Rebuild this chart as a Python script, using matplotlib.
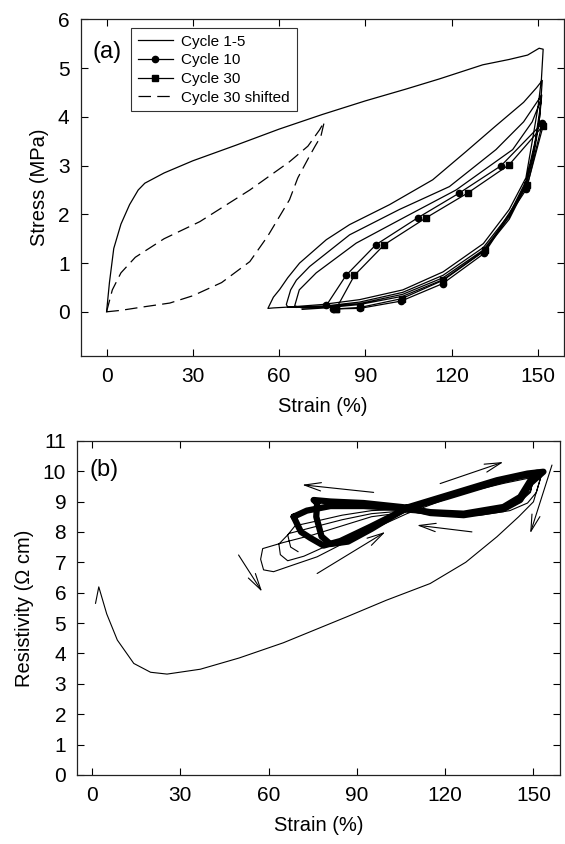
import matplotlib
matplotlib.use("Agg")
import matplotlib.pyplot as plt

plt.rcParams['font.family'] = ['Liberation Sans', 'DejaVu Sans']

# ---------------- Panel (a) data : stress-strain ----------------
# cycles 1-5 (continuous record)
c15_strain = [0, 1, 2.5, 5, 8, 11, 13.3, 20, 30, 45, 60, 75, 90, 104, 115.7, 130.8, 140, 146.4, 150.4, 151.8,
              151.2, 150.0, 148.0, 145.8, 140, 131, 117, 103, 88, 75, 64, 58, 56.1,
              58, 60.2, 63, 67.1, 76.4, 84.5, 98.4, 113.4, 125, 135, 145, 149.5, 151.5,
              150.8, 149.0, 145.8, 140, 131, 117, 103, 88, 76, 66, 63, 62.5,
              64, 66, 70.6, 84.5, 101.8, 119.2, 135.4, 145, 151.3,
              150.6, 148.5, 145.8, 140, 131, 117, 103, 88, 76, 68, 65.4,
              67, 72.9, 86.8, 104.2, 121.5, 141.2, 148, 151.0,
              150.4, 148.5, 145.8, 140, 131, 117, 103, 88, 76, 68]
c15_stress = [0, 0.6, 1.3, 1.8, 2.2, 2.5, 2.64, 2.85, 3.1, 3.42, 3.75, 4.05, 4.33, 4.57, 4.78, 5.07, 5.18, 5.27, 5.41, 5.39,
              4.78, 4.2, 3.5, 2.75, 2.1, 1.4, 0.82, 0.45, 0.25, 0.15, 0.1, 0.08, 0.07,
              0.3, 0.46, 0.7, 1.0, 1.48, 1.79, 2.2, 2.71, 3.29, 3.8, 4.3, 4.6, 4.75,
              4.2, 3.5, 2.68, 2.0, 1.32, 0.75, 0.4, 0.2, 0.12, 0.09, 0.1, 0.15,
              0.45, 0.65, 0.93, 1.58, 2.1, 2.57, 3.33, 3.9, 4.45,
              4.0, 3.3, 2.62, 1.95, 1.27, 0.7, 0.36, 0.17, 0.1, 0.08, 0.12,
              0.45, 0.8, 1.41, 1.96, 2.5, 3.33, 3.9, 4.35,
              3.9, 3.2, 2.58, 1.9, 1.24, 0.66, 0.32, 0.15, 0.08, 0.05]

# cycle 10 (circles) and cycle 30 (squares)
c10_strain = [76.4, 83.3, 93.7, 108.2, 122.7, 137.2, 151.5, 146.0, 131.3, 116.9, 102.4, 88.0, 78.7]
c10_stress = [0.13, 0.75, 1.38, 1.93, 2.44, 3.00, 3.87, 2.52, 1.20, 0.58, 0.22, 0.07, 0.06]
c30_strain = [79.8, 86.2, 96.6, 111.1, 125.6, 140.0, 151.8, 146.3, 131.6, 117.1, 102.6, 88.2, 79.8]
c30_stress = [0.06, 0.75, 1.38, 1.93, 2.44, 3.02, 3.82, 2.60, 1.26, 0.65, 0.27, 0.09, 0.06]

# cycle 30 shifted to the origin (dashed)
c30s_strain = [0, 2, 5, 10, 20, 32.4, 49.8, 63.6, 70, 74, 75.7,
               74.5, 72.5, 70.6, 66.5, 63.6, 56, 49.8, 40, 30, 22, 12.7, 5, 0]
c30s_stress = [0, 0.45, 0.8, 1.12, 1.5, 1.85, 2.5, 3.08, 3.4, 3.73, 3.9,
               3.6, 3.4, 3.2, 2.75, 2.3, 1.55, 1.03, 0.6, 0.33, 0.18, 0.1, 0.03, 0]

# ---------------- Panel (b) data : resistivity-strain ----------------
r15_strain = [1.2, 2.3, 5, 8.6, 14.2, 19.9, 25.5, 36.8, 50, 65, 86.7, 100, 114.9, 127, 137.6, 145, 150, 152.5,
              151, 148, 142, 132, 120, 107, 95, 85, 75, 65, 58, 57.3, 58.3,
              61.7, 68, 76.5, 90, 107, 125, 140, 150,
              149, 145, 135, 120, 107, 95, 85, 75, 67, 63.5, 64, 66.5,
              72, 80, 92, 107, 125, 140, 150.5,
              149, 145, 135, 120, 107, 95, 85, 76, 69, 66.5, 67.5, 70]
r15_res = [5.65, 6.19, 5.3, 4.44, 3.67, 3.38, 3.32, 3.48, 3.85, 4.35, 5.21, 5.75, 6.3, 7.0, 7.84, 8.5, 8.99, 9.8,
           9.3, 8.95, 8.7, 8.55, 8.55, 8.65, 8.5, 8.2, 7.9, 7.65, 7.45, 7.1, 6.75,
           6.69, 6.9, 7.18, 7.85, 8.6, 9.25, 9.6, 9.8,
           9.3, 8.95, 8.65, 8.6, 8.7, 8.6, 8.4, 8.15, 7.95, 7.6, 7.25, 7.05,
           7.2, 7.55, 8.05, 8.7, 9.3, 9.65, 9.85,
           9.35, 9.0, 8.68, 8.62, 8.75, 8.7, 8.55, 8.35, 8.2, 7.9, 7.5, 7.35]

r10_strain = [68.5, 71, 74.2, 78.7, 84.4, 94.6, 107, 120.6, 137.6, 146, 151.5,
              149, 145.5, 139.8, 126.3, 115, 107, 92.3, 81, 73, 68.5]
r10_res = [8.5, 8.0, 7.8, 7.55, 7.7, 8.17, 8.77, 9.15, 9.65, 9.85, 9.95,
           9.7, 9.15, 8.82, 8.6, 8.65, 8.77, 8.85, 8.85, 8.7, 8.5]
r30_strain = [76.5, 76.2, 78, 81, 87, 95, 107, 120.6, 137.6, 148, 153.4,
              149, 145.5, 139.8, 126.3, 115, 107, 92.3, 81, 75.3, 76.5]
r30_res = [8.95, 8.5, 7.85, 7.6, 7.68, 8.1, 8.8, 9.2, 9.7, 9.92, 9.98,
           9.6, 9.05, 8.75, 8.55, 8.62, 8.8, 8.95, 9.0, 9.05, 8.95]

# direction arrows (tail -> head)
arrow_tails = [(118.3, 9.59), (95.7, 9.3), (129.1, 8.0), (76.5, 6.63), (49.8, 7.24), (156.3, 10.2)]
arrow_heads = [(139.8, 10.3), (71.4, 9.55), (110.4, 8.22), (99.7, 8.0), (57.8, 6.03), (148.9, 7.95)]

x_ticks = [0, 30, 60, 90, 120, 150]
ya_ticks = [0, 1, 2, 3, 4, 5, 6]
yb_ticks = list(range(0, 12))

# ---------------- Figure ----------------
fig = plt.figure(figsize=(5.65, 8.44), dpi=100)
ax1 = fig.add_axes([0.1428, 0.5786, 0.998 - 0.1428, 0.9769 - 0.5786])
ax2 = fig.add_axes([0.1368, 0.0818, 0.991 - 0.1368, 0.4778 - 0.0818])

lw = 0.9
ax1.plot(c15_strain, c15_stress, color='black', lw=lw, label='Cycle 1-5')
ax1.plot(c10_strain, c10_stress, color='black', lw=lw, marker='o', ms=4.5, label='Cycle 10')
ax1.plot(c30_strain, c30_stress, color='black', lw=lw, marker='s', ms=4, label='Cycle 30')
ax1.plot(c30s_strain, c30s_stress, color='black', lw=lw, dashes=(10, 5), label='Cycle 30 shifted')

leg = ax1.legend(loc='upper left', bbox_to_anchor=(0.104, 0.975), borderaxespad=0,
                 fontsize=11, handlelength=2.3, frameon=True, fancybox=False,
                 edgecolor='black', labelspacing=0.3, borderpad=0.45, handletextpad=0.55)
leg.get_frame().set_linewidth(0.8)

ax1.set_xlim(-9, 159)
ax1.set_ylim(-0.9, 6)
ax1.set_xticks(x_ticks)
ax1.set_yticks(ya_ticks)
ax1.set_xlabel('Strain (%)', fontsize=14.5, labelpad=8)
ax1.set_ylabel('Stress (MPa)', fontsize=14.5, labelpad=6)
ax1.text(0.055, 0.904, '(a)', transform=ax1.transAxes, fontsize=17, ha='center', va='center')

ax2.plot(r15_strain, r15_res, color='black', lw=0.8)
ax2.plot(r10_strain, r10_res, color='black', lw=4.5, solid_joinstyle='round', solid_capstyle='round')
ax2.plot(r30_strain, r30_res, color='black', lw=4.5, solid_joinstyle='round', solid_capstyle='round')
for t, h in zip(arrow_tails, arrow_heads):
    ax2.annotate('', xy=h, xytext=t,
                 arrowprops=dict(arrowstyle='->,head_length=1.2,head_width=0.3', lw=0.8,
                                 color='black', shrinkA=0, shrinkB=0))

ax2.set_xlim(-5, 159)
ax2.set_ylim(0, 11)
ax2.set_xticks(x_ticks)
ax2.set_yticks(yb_ticks)
ax2.set_xlabel('Strain (%)', fontsize=14.5, labelpad=8)
ax2.set_ylabel('Resistivity (\u03a9 cm)', fontsize=14.5, labelpad=6)
ax2.text(0.055, 0.912, '(b)', transform=ax2.transAxes, fontsize=17, ha='center', va='center')

for ax in (ax1, ax2):
    ax.tick_params(direction='in', top=True, right=True, length=5, width=0.8,
                   labelsize=15, pad=8)
    for s in ax.spines.values():
        s.set_linewidth(0.9)
        s.set_color('#222222')

fig.savefig('out.png', dpi=100)
